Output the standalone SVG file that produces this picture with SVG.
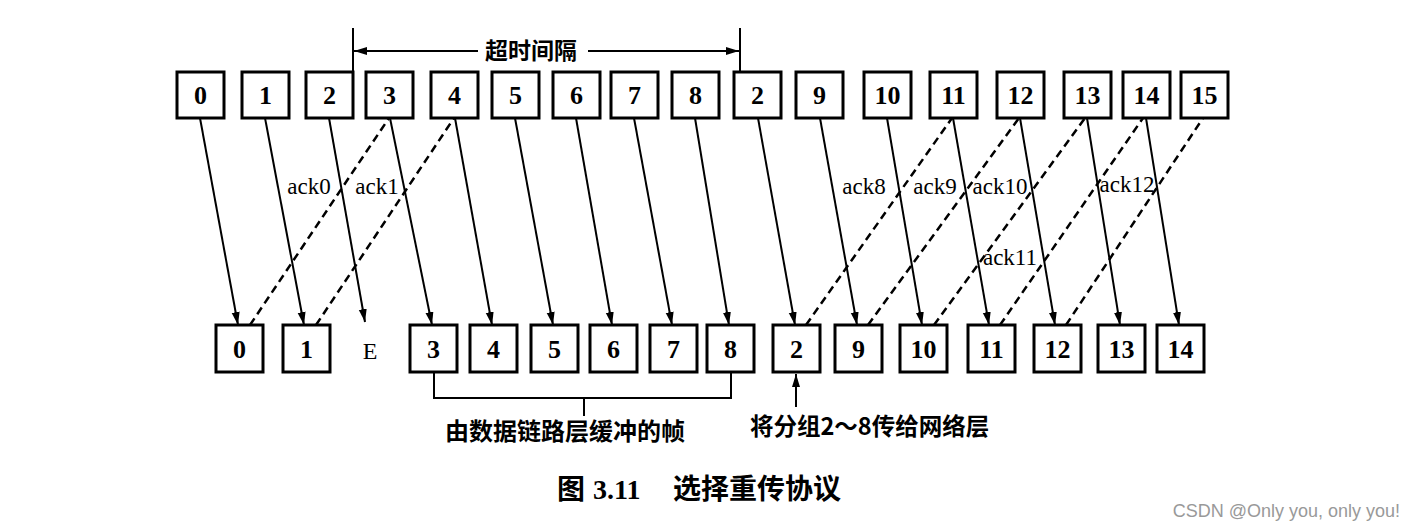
<svg xmlns="http://www.w3.org/2000/svg" width="1416" height="530" viewBox="0 0 1416 530">
<style>
.box rect{fill:#fff;stroke:#000;stroke-width:3}
.box text{font-family:"Liberation Serif",serif;font-size:26px;font-weight:bold;text-anchor:middle;fill:#000}
.snd{stroke:#000;stroke-width:2;fill:none}
.ack{stroke:#000;stroke-width:2.5;stroke-dasharray:8 5;fill:none}
.lbl{font-family:"Liberation Serif",serif;font-size:23px;fill:#000}
.cn{font-family:"Noto Sans CJK SC","Noto Sans",sans-serif;font-weight:bold;fill:#000}
</style>
<defs>
<marker id="ah" markerUnits="userSpaceOnUse" markerWidth="14" markerHeight="10" refX="13" refY="4" orient="auto">
<path d="M0,0 L13,4 L0,8 z" fill="#000"/>
</marker>
</defs>
<rect width="1416" height="530" fill="#fff"/>

<g id="connectors">
<g id="sends">
<line class="snd" x1="200" y1="118" x2="238" y2="325" marker-end="url(#ah)"/>
<line class="snd" x1="265" y1="118" x2="304" y2="325" marker-end="url(#ah)"/>
<line class="snd" x1="329" y1="118" x2="365" y2="322" marker-end="url(#ah)"/>
<line class="snd" x1="390" y1="118" x2="432" y2="325" marker-end="url(#ah)"/>
<line class="snd" x1="455" y1="118" x2="492" y2="325" marker-end="url(#ah)"/>
<line class="snd" x1="515" y1="118" x2="553" y2="325" marker-end="url(#ah)"/>
<line class="snd" x1="576" y1="118" x2="612" y2="325" marker-end="url(#ah)"/>
<line class="snd" x1="634" y1="118" x2="672" y2="325" marker-end="url(#ah)"/>
<line class="snd" x1="695" y1="118" x2="729" y2="325" marker-end="url(#ah)"/>
<line class="snd" x1="758" y1="118" x2="795" y2="325" marker-end="url(#ah)"/>
<line class="snd" x1="820" y1="118" x2="857" y2="325" marker-end="url(#ah)"/>
<line class="snd" x1="887" y1="118" x2="922" y2="325" marker-end="url(#ah)"/>
<line class="snd" x1="953" y1="118" x2="989" y2="325" marker-end="url(#ah)"/>
<line class="snd" x1="1020" y1="118" x2="1055" y2="325" marker-end="url(#ah)"/>
<line class="snd" x1="1087" y1="118" x2="1120" y2="325" marker-end="url(#ah)"/>
<line class="snd" x1="1146" y1="118" x2="1179" y2="325" marker-end="url(#ah)"/>
</g>
<g id="acks">
<line class="ack" x1="250" y1="325" x2="389" y2="118"/>
<line class="ack" x1="316" y1="325" x2="454" y2="118"/>
<line class="ack" x1="806" y1="325" x2="952" y2="118"/>
<line class="ack" x1="868" y1="325" x2="1019" y2="118"/>
<line class="ack" x1="934" y1="325" x2="1085" y2="118"/>
<line class="ack" x1="1000" y1="325" x2="1143" y2="118"/>
<line class="ack" x1="1066" y1="325" x2="1203" y2="118"/>
</g>
<g id="timeout">
<line class="snd" x1="353" y1="28" x2="353" y2="72"/>
<line class="snd" x1="740" y1="28" x2="740" y2="72"/>
<line class="snd" x1="478" y1="51" x2="354" y2="51" marker-end="url(#ah)"/>
<line class="snd" x1="588" y1="51" x2="739" y2="51" marker-end="url(#ah)"/>
</g>
<g id="bracket">
<polyline class="snd" points="434,373 434,398 731,398 731,373"/>
<line class="snd" x1="584" y1="398" x2="584" y2="416"/>
<line class="snd" x1="796" y1="407" x2="796" y2="374" marker-end="url(#ah)"/>
</g>
</g>

<g id="ack-labels" class="lbl">
<text x="309" y="194" text-anchor="middle">ack0</text>
<text x="377" y="194" text-anchor="middle">ack1</text>
<text x="864" y="194" text-anchor="middle">ack8</text>
<text x="935" y="194" text-anchor="middle">ack9</text>
<text x="1000" y="194" text-anchor="middle">ack10</text>
<text x="1127" y="192" text-anchor="middle">ack12</text>
<text x="1010" y="265" text-anchor="middle">ack11</text>
</g>

<g id="sender">
<g id="s0" class="box"><rect x="177" y="72" width="47" height="46"/><text x="200.5" y="104">0</text></g>
<g id="s1" class="box"><rect x="242" y="72" width="47" height="46"/><text x="265.5" y="104">1</text></g>
<g id="s2" class="box"><rect x="306" y="72" width="47" height="46"/><text x="329.5" y="104">2</text></g>
<g id="s3" class="box"><rect x="366" y="72" width="47" height="46"/><text x="389.5" y="104">3</text></g>
<g id="s4" class="box"><rect x="431" y="72" width="47" height="46"/><text x="454.5" y="104">4</text></g>
<g id="s5" class="box"><rect x="492" y="72" width="47" height="46"/><text x="515.5" y="104">5</text></g>
<g id="s6" class="box"><rect x="553" y="72" width="47" height="46"/><text x="576.5" y="104">6</text></g>
<g id="s7" class="box"><rect x="611" y="72" width="47" height="46"/><text x="634.5" y="104">7</text></g>
<g id="s8" class="box"><rect x="672" y="72" width="47" height="46"/><text x="695.5" y="104">8</text></g>
<g id="s2r" class="box"><rect x="734" y="72" width="47" height="46"/><text x="757.5" y="104">2</text></g>
<g id="s9" class="box"><rect x="796" y="72" width="47" height="46"/><text x="819.5" y="104">9</text></g>
<g id="s10" class="box"><rect x="864" y="72" width="47" height="46"/><text x="887.5" y="104">10</text></g>
<g id="s11" class="box"><rect x="930" y="72" width="47" height="46"/><text x="953.5" y="104">11</text></g>
<g id="s12" class="box"><rect x="997" y="72" width="47" height="46"/><text x="1020.5" y="104">12</text></g>
<g id="s13" class="box"><rect x="1064" y="72" width="47" height="46"/><text x="1087.5" y="104">13</text></g>
<g id="s14" class="box"><rect x="1123" y="72" width="47" height="46"/><text x="1146.5" y="104">14</text></g>
<g id="s15" class="box"><rect x="1181" y="72" width="47" height="46"/><text x="1204.5" y="104">15</text></g>
</g>

<g id="receiver">
<g id="r0" class="box"><rect x="216" y="325" width="47" height="47"/><text x="239.5" y="358">0</text></g>
<g id="r1" class="box"><rect x="283" y="325" width="47" height="47"/><text x="306.5" y="358">1</text></g>
<g id="rE"><text class="lbl" x="370" y="359" text-anchor="middle" style="font-size:24px">E</text></g>
<g id="r3" class="box"><rect x="410" y="325" width="47" height="47"/><text x="433.5" y="358">3</text></g>
<g id="r4" class="box"><rect x="470" y="325" width="47" height="47"/><text x="493.5" y="358">4</text></g>
<g id="r5" class="box"><rect x="531" y="325" width="47" height="47"/><text x="554.5" y="358">5</text></g>
<g id="r6" class="box"><rect x="590" y="325" width="47" height="47"/><text x="613.5" y="358">6</text></g>
<g id="r7" class="box"><rect x="650" y="325" width="47" height="47"/><text x="673.5" y="358">7</text></g>
<g id="r8" class="box"><rect x="707" y="325" width="47" height="47"/><text x="730.5" y="358">8</text></g>
<g id="r2" class="box"><rect x="773" y="325" width="47" height="47"/><text x="796.5" y="358">2</text></g>
<g id="r9" class="box"><rect x="835" y="325" width="47" height="47"/><text x="858.5" y="358">9</text></g>
<g id="r10" class="box"><rect x="900" y="325" width="47" height="47"/><text x="923.5" y="358">10</text></g>
<g id="r11" class="box"><rect x="968" y="325" width="47" height="47"/><text x="991.5" y="358">11</text></g>
<g id="r12" class="box"><rect x="1034" y="325" width="47" height="47"/><text x="1057.5" y="358">12</text></g>
<g id="r13" class="box"><rect x="1098" y="325" width="47" height="47"/><text x="1121.5" y="358">13</text></g>
<g id="r14" class="box"><rect x="1157" y="325" width="47" height="47"/><text x="1180.5" y="358">14</text></g>
</g>

<g id="texts">
<text class="cn" x="531" y="59" text-anchor="middle" font-size="23">超时间隔</text>
<text class="cn" x="565" y="440" text-anchor="middle" font-size="24">由数据链路层缓冲的帧</text>
<text class="cn" x="750" y="435" font-size="23.5">将分组2～8传给网络层</text>
<text class="cn" x="557" y="499" font-size="28">图<tspan x="593" style="font-family:'Liberation Serif',serif">3.11</tspan><tspan x="673">选择重传协议</tspan></text>
<text x="1400" y="517" text-anchor="end" font-family="'Liberation Sans',Arial,sans-serif" font-size="18" fill="#999">CSDN @Only you, only you!</text>
</g>
</svg>
